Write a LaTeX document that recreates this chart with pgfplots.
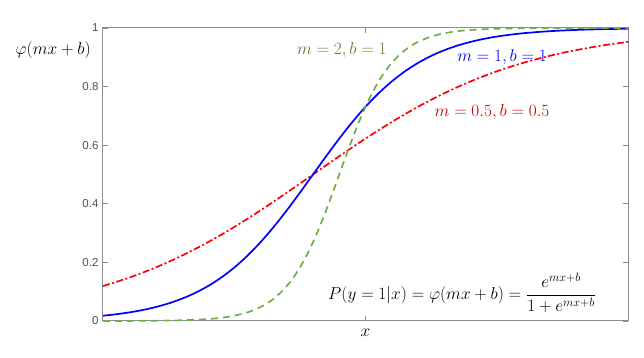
\documentclass[border=0pt]{standalone}
\usepackage{amsmath}
\usepackage{fontspec}
\setmainfont{Liberation Sans}
\usepackage{pgfplots}
\pgfplotsset{compat=1.18}
\definecolor{axgray}{RGB}{140,140,140}
\definecolor{lblgray}{RGB}{80,80,80}
\definecolor{cblue}{RGB}{0,0,255}
\definecolor{cred}{RGB}{255,0,0}
\definecolor{cgreen}{RGB}{112,173,71}
\definecolor{tgreen}{RGB}{84,130,53}
\definecolor{tred}{RGB}{192,0,0}
\definecolor{tblue}{RGB}{0,0,240}
\begin{document}
\begin{tikzpicture}
\begin{axis}[
  scale only axis, width=525pt, height=293pt,
  xmin=-5, xmax=5, ymin=0, ymax=1,
  xtick={0}, xticklabels={},
  ytick={0,0.2,0.4,0.6,0.8,1},
  yticklabels={0,0.2,0.4,0.6,0.8,1},
  tick align=inside, major tick length=5pt,
  axis line style={axgray, line width=1pt},
  every tick/.style={axgray, line width=0.8pt},
  tick label style={font=\fontsize{11.5}{13}\selectfont, text=lblgray},
  yticklabel style={xshift=-1pt},
  /pgf/number format/assume math mode=true,
  clip=false,
]
\addplot[cred, line width=1.7pt, smooth, dash pattern=on 7pt off 2.5pt on 2pt off 2.5pt] coordinates {
(-5,0.1192) (-4.5,0.1480) (-4,0.1824) (-3.5,0.2227) (-3,0.2689) (-2.5,0.3208)
(-2,0.3775) (-1.5,0.4378) (-1,0.5) (-0.5,0.5622) (0,0.6225) (0.5,0.6792)
(1,0.7311) (1.5,0.7773) (2,0.8176) (2.5,0.8520) (3,0.8808) (3.5,0.9047)
(4,0.9241) (4.5,0.9399) (5,0.9526)};
\addplot[cblue, line width=1.7pt, smooth] coordinates {
(-5,0.0180) (-4.75,0.0230) (-4.5,0.0293) (-4.25,0.0373) (-4,0.0474) (-3.75,0.0601)
(-3.5,0.0759) (-3.25,0.0953) (-3,0.1192) (-2.75,0.1480) (-2.5,0.1824) (-2.25,0.2227)
(-2,0.2689) (-1.75,0.3208) (-1.5,0.3775) (-1.25,0.4378) (-1,0.5) (-0.75,0.5622)
(-0.5,0.6225) (-0.25,0.6792) (0,0.7311) (0.25,0.7773) (0.5,0.8176) (0.75,0.8520)
(1,0.8808) (1.25,0.9047) (1.5,0.9241) (1.75,0.9399) (2,0.9526) (2.25,0.9627)
(2.5,0.9707) (2.75,0.9770) (3,0.9820) (3.25,0.9859) (3.5,0.9890) (3.75,0.9914)
(4,0.9933) (4.25,0.9948) (4.5,0.9959) (4.75,0.9968) (5,0.9975)};
\addplot[cgreen, line width=1.7pt, smooth, dash pattern=on 7pt off 5pt] coordinates {
(-5,0.0001) (-4.5,0.0003) (-4,0.0009) (-3.5,0.0025) (-3,0.0067) (-2.75,0.0110)
(-2.5,0.0180) (-2.25,0.0293) (-2,0.0474) (-1.875,0.0601) (-1.75,0.0759) (-1.625,0.0953)
(-1.5,0.1192) (-1.375,0.1480) (-1.25,0.1824) (-1.125,0.2227) (-1,0.2689) (-0.875,0.3208)
(-0.75,0.3775) (-0.625,0.4378) (-0.5,0.5) (-0.375,0.5622) (-0.25,0.6225) (-0.125,0.6792)
(0,0.7311) (0.125,0.7773) (0.25,0.8176) (0.375,0.8520) (0.5,0.8808) (0.625,0.9047)
(0.75,0.9241) (0.875,0.9399) (1,0.9526) (1.25,0.9707) (1.5,0.9820) (1.75,0.9890)
(2,0.9933) (2.5,0.9975) (3,0.9991) (3.5,0.9997) (4,0.9999) (5,1.0000)};
\node[font=\fontsize{18}{21}\selectfont] at (rel axis cs:-0.095,0.925) {$\varphi(mx+b)$};
\node[font=\fontsize{18}{21}\selectfont, text=tgreen] at (axis cs:-0.45,0.925) {$m=2, b=1$};
\node[font=\fontsize{18}{21}\selectfont, text=tblue] at (axis cs:2.6,0.90) {$m=1, b=1$};
\node[font=\fontsize{18}{21}\selectfont, text=tred] at (axis cs:2.41,0.713) {$m=0.5, b=0.5$};
\node[font=\fontsize{18}{21}\selectfont] at (axis cs:1.84,0.096) {$P(y=1|x)=\varphi(mx+b)=\dfrac{e^{mx+b}}{1+e^{mx+b}}$};
\node[font=\fontsize{18}{21}\selectfont] at (rel axis cs:0.5,-0.041) {$x$};
\end{axis}
\useasboundingbox (-103pt,-37pt) rectangle (541pt,321pt);
\end{tikzpicture}
\end{document}
